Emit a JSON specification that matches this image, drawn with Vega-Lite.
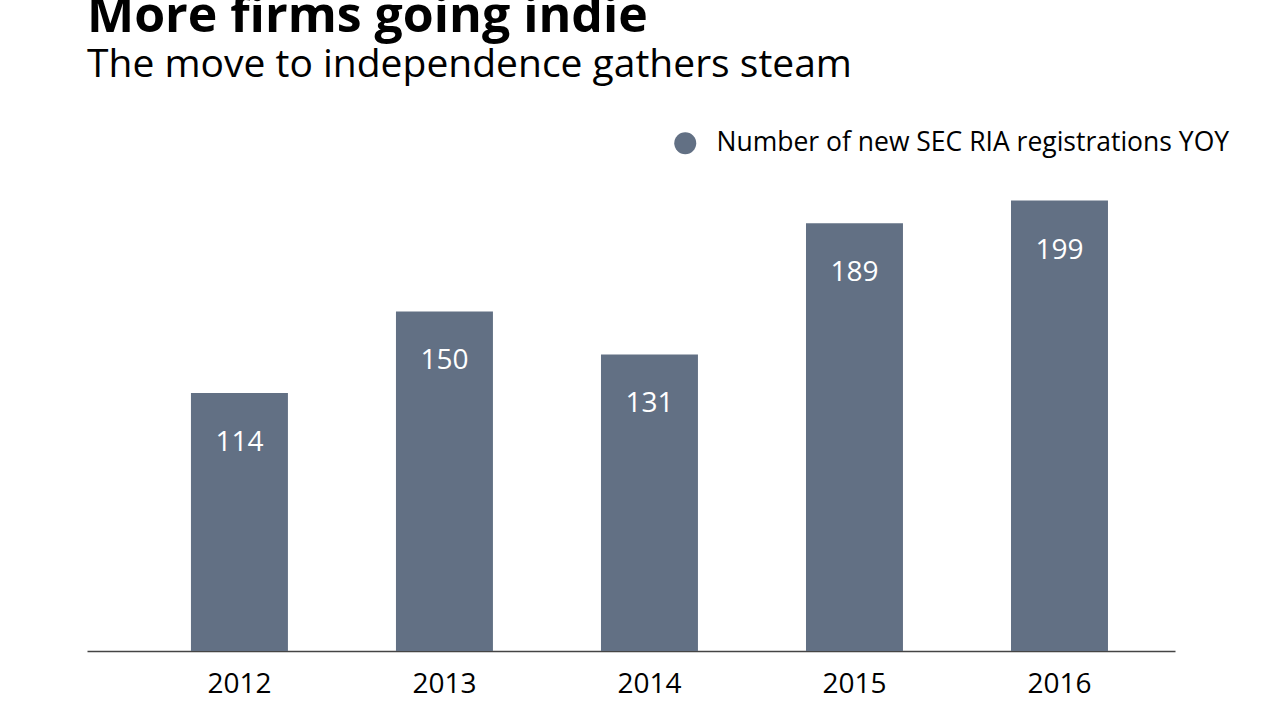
{
  "$schema": "https://vega.github.io/schema/vega-lite/v6.json",
  "width": 1088,
  "height": 498,
  "autosize": "none",
  "padding": {"left": 87, "top": 153, "right": 105, "bottom": 69},
  "background": "white",
  "config": {
    "font": "Open Sans",
    "view": {"stroke": null}
  },
  "title": {
    "text": "More firms going indie",
    "subtitle": "The move to independence gathers steam",
    "anchor": "start",
    "frame": "group",
    "orient": "top",
    "font": "Open Sans",
    "fontSize": 50,
    "fontWeight": "bold",
    "color": "#000000",
    "subtitleFont": "Open Sans",
    "subtitleFontSize": 39,
    "subtitleColor": "#000000",
    "subtitlePadding": 4,
    "offset": 45
  },
  "data": {
    "values": [
      {"year": "2012", "registrations": 114},
      {"year": "2013", "registrations": 150},
      {"year": "2014", "registrations": 131},
      {"year": "2015", "registrations": 189},
      {"year": "2016", "registrations": 199}
    ]
  },
  "encoding": {
    "x": {
      "field": "year",
      "type": "ordinal",
      "scale": {"paddingInner": 0.527, "paddingOuter": 0.417, "align": 0.608},
      "axis": {
        "title": null,
        "labelAngle": 0,
        "labelFontSize": 28,
        "labelColor": "#000000",
        "labelPadding": 19,
        "labelBaseline": "top",
        "ticks": false,
        "domainColor": "#444444",
        "domainWidth": 1.5
      }
    },
    "y": {
      "field": "registrations",
      "type": "quantitative",
      "scale": {"domain": [0, 220], "nice": false},
      "axis": null
    }
  },
  "layer": [
    {
      "mark": {"type": "bar", "color": "#627084"},
      "encoding": {
        "color": {
          "datum": "Number of new SEC RIA registrations YOY",
          "type": "nominal",
          "scale": {"range": ["#627084"]},
          "legend": {
            "title": null,
            "orient": "none",
            "legendX": 585,
            "legendY": -23,
            "symbolType": "circle",
            "symbolSize": 484,
            "symbolStrokeWidth": 0,
            "labelFontSize": 26.5,
            "labelColor": "#000000",
            "labelOffset": 18,
            "labelLimit": 0,
            "padding": 0
          }
        }
      }
    },
    {
      "mark": {"type": "text", "color": "#ffffff", "fontSize": 28, "baseline": "middle", "dy": 50},
      "encoding": {
        "text": {"field": "registrations", "type": "quantitative"}
      }
    }
  ]
}
